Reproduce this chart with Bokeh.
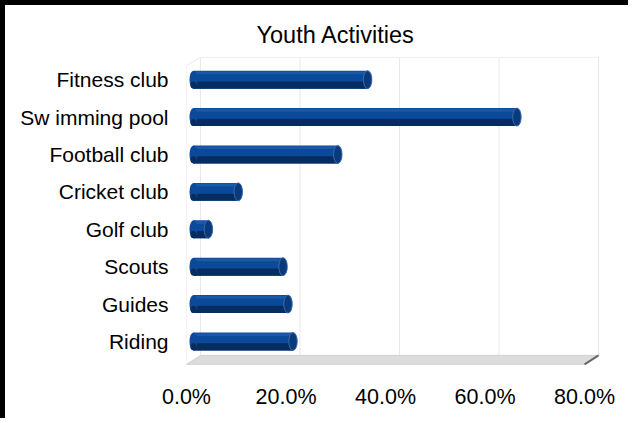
from bokeh.plotting import figure
from bokeh.models import Range1d, FixedTicker, NumeralTickFormatter
from bokeh.embed import file_html
from bokeh.resources import INLINE

# ---- data ----
categories = ["Fitness club", "Sw imming pool", "Football club", "Cricket club",
              "Golf club", "Scouts", "Guides", "Riding"]
values = [0.35, 0.65, 0.29, 0.09, 0.03, 0.18, 0.19, 0.20]
x_ticks = [0.0, 0.2, 0.4, 0.6, 0.8]
title_text = "Youth Activities"

# ---- styling constants ----
FONT = "Liberation Sans"
DX = 0.028    # 3D depth offset (x units)
DY = 0.24     # 3D depth offset (y units)
BAR_H = 0.48
Y_TOP = 7.62
Y_FLOOR = -0.613
MAIN = "#0b4a9b"
DARK = "#062c60"
LIGHT = "#2b65b2"
CAP = "#0a3a7c"

n = len(categories)
ypos = [n - 1 - i for i in range(n)]

p = figure(width=628, height=418, output_backend="svg", toolbar_location=None,
           x_range=Range1d(0, 0.84), y_range=Range1d(-0.67, Y_TOP),
           min_border_left=181, min_border_right=29, min_border_top=51,
           min_border_bottom=57)
p.styles = {"border-left": "5px solid black", "border-top": "5px solid black"}
p.background_fill_color = "white"
p.border_fill_color = "white"
p.outline_line_color = None
p.xgrid.grid_line_color = None
p.ygrid.grid_line_color = None

# title
p.title.text = title_text
p.title.align = "left"
p.title.offset = 70
p.title.standoff = 18
p.title.text_font = FONT
p.title.text_font_size = "23.5px"
p.title.text_font_style = "normal"
p.title.text_color = "black"

# axes
xa = p.xaxis[0]
xa.ticker = FixedTicker(ticks=x_ticks)
xa.formatter = NumeralTickFormatter(format="0.0%")
ya = p.yaxis[0]
ya.ticker = FixedTicker(ticks=ypos)
ya.major_label_overrides = {y: c for y, c in zip(ypos, categories)}
for ax in (xa, ya):
    ax.axis_line_color = None
    ax.major_tick_line_color = None
    ax.minor_tick_line_color = None
    ax.major_tick_in = 0
    ax.major_tick_out = 0
    ax.major_label_text_font = FONT
    ax.major_label_text_color = "black"
xa.major_label_text_font_size = "21.5px"
xa.major_label_standoff = 18
ya.major_label_text_font_size = "21px"
ya.major_label_standoff = 18

# back wall grid lines
gx = [t + DX for t in x_ticks]
p.segment(x0=gx, y0=[Y_FLOOR + DY] * len(gx), x1=gx, y1=[Y_TOP - 0.02] * len(gx),
          line_color="#e8e8e8", line_width=1)
# top edge of back wall
p.segment(x0=[DX], y0=[Y_TOP - 0.02], x1=[x_ticks[-1] + DX], y1=[Y_TOP - 0.02],
          line_color="#eeeeee", line_width=1)
# left wall
p.segment(x0=[0, 0], y0=[Y_FLOOR, Y_TOP - DY], x1=[0, DX], y1=[Y_TOP - DY, Y_TOP - 0.02],
          line_color="#e8e8e8", line_width=1)

# floor
p.patch(x=[0, x_ticks[-1], x_ticks[-1] + DX, DX],
        y=[Y_FLOOR, Y_FLOOR, Y_FLOOR + DY, Y_FLOOR + DY],
        fill_color="#dcdcdc", line_color="#d2d2d2", line_width=1)
p.segment(x0=[x_ticks[-1]], y0=[Y_FLOOR], x1=[x_ticks[-1] + DX], y1=[Y_FLOOR + DY],
          line_color="#666666", line_width=2)

# cylinder bars (at mid depth)
x0 = DX / 2
right = [v + x0 for v in values]
p.hbar(y=ypos, left=x0, right=right, height=BAR_H, fill_color=MAIN, line_color=None)
p.hbar(y=[y + BAR_H * 0.38 for y in ypos], left=x0, right=right, height=BAR_H * 0.16,
       fill_color=LIGHT, line_color=None, fill_alpha=0.5)
p.hbar(y=[y - BAR_H * 0.3 for y in ypos], left=x0, right=right, height=BAR_H * 0.4,
       fill_color=DARK, line_color=None)
# rounded left end
p.ellipse(x=[x0] * n, y=ypos, width=0.016, height=BAR_H, fill_color=MAIN, line_color=None)
p.ellipse(x=[x0] * n, y=[y - BAR_H * 0.3 for y in ypos], width=0.012, height=BAR_H * 0.4,
          fill_color=DARK, line_color=None)
# right cap
p.ellipse(x=right, y=ypos, width=0.017, height=BAR_H, fill_color=CAP,
          line_color="#3a6aa8", line_width=1)

open("out.html", "w").write(file_html(p, INLINE))
